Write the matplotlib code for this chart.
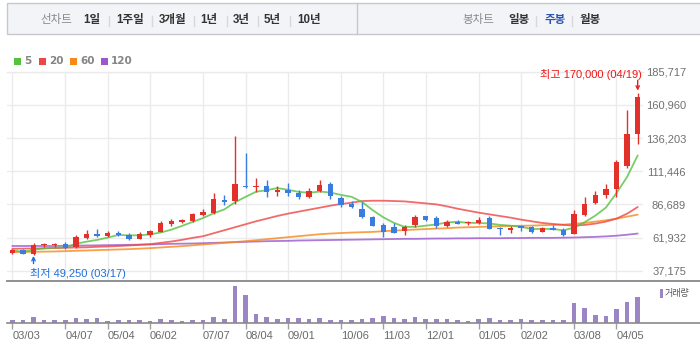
import matplotlib
matplotlib.use("Agg")
import matplotlib.pyplot as plt
from matplotlib.patches import Rectangle
from matplotlib.lines import Line2D
import numpy as np
import pandas as pd

plt.rcParams['font.family'] = ['Liberation Sans', 'Noto Sans CJK KR', 'DejaVu Sans']

# ---------------- data (weekly candles, 03/03 .. 04/19) ----------------
opens = [50300, 52500, 49550, 55990, 55990, 57000, 55000, 61440, 64650, 62920,
         64900, 63660, 60940, 63660, 66390, 71840, 73320, 74310, 79010, 80250,
         89910, 89160, 100550, 99320, 100060, 96100, 97580, 94860, 91890, 96340,
         101540, 91640, 86690, 83470, 77030, 71090, 69610, 66880, 71340, 77780,
         76290, 70350, 73820, 72580, 72580, 76290, 69110, 67630, 70100, 69610,
         66140, 69110, 67380, 64650, 78520, 87680, 93620, 98080, 115160, 138930]
closes = [52500, 49800, 56240, 56730, 56730, 54010, 62430, 64410, 63170, 65400,
          63910, 60940, 64410, 66640, 72580, 74310, 75050, 79260, 81240, 90400,
          88670, 101540, 99560, 100550, 95850, 96840, 95110, 91890, 96840, 100800,
          92880, 86440, 84710, 77280, 70600, 66140, 65650, 69850, 77280, 75050,
          70600, 73320, 72080, 73320, 74810, 68620, 68120, 69110, 69110, 66390,
          69110, 67870, 64160, 79260, 86690, 93370, 97830, 118630, 139420, 166900]
highs = [53300, 53300, 57480, 58220, 58220, 58470, 63660, 67380, 68120, 66640,
         66640, 65150, 66390, 67380, 74060, 75800, 76040, 80250, 83220, 94860,
         93370, 137440, 125310, 106740, 105010, 100060, 102290, 97580, 99070, 104510,
         103030, 92630, 88920, 88420, 78270, 72580, 73070, 71090, 78520, 78020,
         77780, 74810, 74810, 74310, 77030, 78270, 69850, 70350, 71590, 70600,
         69850, 71090, 68860, 82230, 91890, 96340, 101540, 119860, 157250, 170000]
lows = [49550, 49600, 49250, 54500, 54750, 53270, 54260, 60940, 62180, 62180,
        62920, 60200, 60690, 62430, 65890, 70600, 72830, 73570, 78270, 79760,
        85950, 86940, 99070, 95850, 92140, 92880, 92630, 90900, 91390, 95600,
        90650, 84710, 83970, 76540, 70350, 62430, 65400, 63910, 69610, 74560,
        69110, 69610, 71840, 71340, 71840, 68370, 63910, 65400, 66880, 65650,
        65890, 67630, 63170, 64410, 77780, 87180, 91390, 92140, 113670, 131500]
# moving averages (need history before the first candle)
ma20 = [53515, 53640, 53760, 53890, 54010, 54260, 54505, 54630, 55000, 55250,
        55620, 55990, 56485, 56980, 57970, 58960, 60200, 61685, 62920, 65150,
        67380, 69605, 71835, 74060, 76045, 78025, 79755, 81240, 82730, 84215,
        85700, 86935, 87930, 89165, 89410, 89410, 89165, 88915, 88175, 87430,
        86690, 85205, 83470, 81985, 80500, 79260, 78025, 76785, 75300, 74060,
        72825, 72080, 71340, 70845, 71340, 72330, 73815, 76045, 79755, 84710]
ma60 = [51040, 51160, 51290, 51410, 51535, 51780, 52030, 52275, 52525, 52770,
        53020, 53265, 53640, 54010, 54505, 55000, 55495, 56115, 56735, 57350,
        57970, 58590, 59210, 59950, 60695, 61435, 62180, 62920, 63665, 64410,
        64900, 65275, 65645, 65895, 66140, 66635, 67130, 67500, 67875, 68245,
        68615, 68865, 69360, 69605, 69855, 70100, 70350, 70595, 70720, 70845,
        71090, 71340, 71585, 72205, 72825, 73815, 74805, 76045, 77530, 79015]
ma120 = [55620, 55620, 55620, 55620, 55620, 55745, 55865, 55990, 56115, 56240,
         56360, 56485, 56610, 56735, 56980, 57230, 57350, 57475, 57725, 57970,
         58220, 58465, 58715, 58960, 59210, 59335, 59455, 59705, 59830, 59950,
         60075, 60200, 60325, 60445, 60570, 60695, 60820, 60940, 60940, 61065,
         61190, 61190, 61315, 61315, 61435, 61435, 61435, 61560, 61560, 61685,
         61685, 61685, 61810, 61930, 62180, 62430, 62800, 63295, 64035, 64900]
# volume (thousand shares)
volumes = [350, 350, 800, 350, 350, 350, 650, 500, 650, 200,
           350, 350, 350, 200, 500, 350, 200, 350, 350, 800,
           500, 5500, 4150, 1300, 800, 500, 650, 650, 500, 650,
           350, 350, 350, 500, 650, 950, 650, 500, 800, 500,
           500, 500, 350, 200, 500, 650, 350, 350, 500, 350,
           350, 350, 350, 2900, 2150, 1100, 950, 2000, 3050, 3800]

tick_idx = [0, 5, 9, 13, 18, 22, 26, 31, 35, 39, 44, 48, 53, 57]
tick_labels = ["03/03", "04/07", "05/04", "06/02", "07/07", "08/04", "09/01",
               "10/06", "11/03", "12/01", "01/05", "02/02", "03/08", "04/05"]
price_ticks = [37175, 61932, 86689, 111446, 136203, 160960, 185717]
max_date, min_date = "04/19", "03/17"

ma_names = ["5", "20", "60", "120"]
ma_colors = ["#55c23f", "#ee4646", "#f7891b", "#9b57cf"]

# ---------------- figure ----------------
W, H = 700, 352
fig = plt.figure(figsize=(7, 3.52), dpi=100)
fig.patch.set_facecolor("white")

def fx(x): return x / W
def fy(y): return 1 - y / H

def prect(x0, y0, x1, y1, **kw):
    fig.add_artist(Rectangle((fx(x0), fy(y1)), (x1 - x0) / W, (y1 - y0) / H,
                             transform=fig.transFigure, **kw))

def pline(x0, y0, x1, y1, **kw):
    fig.add_artist(Line2D([fx(x0), fx(x1)], [fy(y0), fy(y1)],
                          transform=fig.transFigure, **kw))

# header bar
prect(7.3, 3, 702, 34, facecolor="#f3f4f8", edgecolor="#c6c8cd", lw=1)
pline(357, 3, 357, 34, color="#c6c8cd", lw=1)
hy = 20.5
fig.text(fx(55.9), fy(hy), "선차트", ha="center", va="center", fontsize=8.3, color="#8a8a8a")
for lab, cx in zip(["1일", "1주일", "3개월", "1년", "3년", "5년", "10년"],
                   [92, 130.3, 172.8, 208.8, 240.8, 272.5, 309.2]):
    fig.text(fx(cx), fy(hy), lab, ha="center", va="center", fontsize=8.3,
             fontweight="bold", color="#333333")
for sx in [109, 151.7, 194.3, 226.7, 257.7, 290, 535.7, 571.7]:
    pline(sx, 15.5, sx, 25.5, color="#d8d8d8", lw=1)
fig.text(fx(478.3), fy(hy), "봉차트", ha="center", va="center", fontsize=8.3, color="#8a8a8a")
for lab, cx, col in zip(["일봉", "주봉", "월봉"], [519.2, 554.7, 590.3],
                        ["#333333", "#2d54b0", "#333333"]):
    fig.text(fx(cx), fy(hy), lab, ha="center", va="center", fontsize=8.3,
             fontweight="bold", color=col)

# MA legend
for name, col, sx in zip(ma_names, ma_colors, [14, 39.3, 70, 101]):
    prect(sx, 58, sx + 6.7, 64.7, facecolor=col, edgecolor="none")
    fig.text(fx(sx + 10), fy(61.5), name, ha="left", va="center", fontsize=7.5,
             fontweight="bold", color="#858585", family="DejaVu Sans")

# ---------------- price axes ----------------
ax = fig.add_axes([fx(7), fy(280.7), fx(643) - fx(7), fy(71.7) - fy(280.7)])
x = np.arange(len(closes))
ax.set_xlim(-0.5, len(closes) - 0.5)
ax.set_ylim(29711, 185717)
for s in ax.spines.values():
    s.set_visible(False)
ax.set_xticks(tick_idx)
ax.set_yticks(price_ticks)
ax.grid(True, color="#ebebeb", lw=1, zorder=0)
ax.axhline(price_ticks[-1], color="#e6e6e6", lw=1, clip_on=False, zorder=0)
ax.tick_params(axis="x", length=0, labelbottom=False)
ax.yaxis.tick_right()
ax.tick_params(axis="y", length=0, pad=31, labelsize=8, labelcolor="#707070")
ax.set_yticklabels([f"{v:,}" for v in price_ticks])
for lbl in ax.get_yticklabels():
    lbl.set_horizontalalignment("right")

# moving averages
ma5 = pd.Series(closes).rolling(5, min_periods=1).mean().values
for vals, col in zip([ma120, ma60, ma20, ma5], ma_colors[::-1]):
    ax.plot(x, vals, color=col, lw=1.3, alpha=0.8, zorder=2, solid_capstyle="round")

# candles
o = np.array(opens); c = np.array(closes)
colors = np.where(c >= o, "#e2302b", "#3a7ce0")
bottoms = np.minimum(o, c)
heights = np.maximum(np.abs(c - o), 1100)
ax.vlines(x, lows, highs, colors=colors, lw=1, zorder=3)
ax.bar(x, heights, bottom=bottoms, width=0.5, color=colors, lw=0, zorder=4)

# extremes
imax = int(np.argmax(highs)); hmax = highs[imax]
imin = int(np.argmin(lows)); lmin = lows[imin]
ax.annotate("", xy=(imax, hmax), xytext=(0, 9), textcoords="offset points",
            arrowprops=dict(arrowstyle="->", color="#e8201c", lw=1, shrinkA=0, shrinkB=1.5,
                            mutation_scale=6), annotation_clip=False)
ax.annotate(f"최고 {hmax:,} ({max_date})", xy=(imax, hmax), xytext=(2.8, 13.3),
            textcoords="offset points", ha="right", va="center", fontsize=8,
            color="#f01515", annotation_clip=False)
ax.annotate("", xy=(imin, lmin), xytext=(0, -6.5), textcoords="offset points",
            arrowprops=dict(arrowstyle="->", color="#1f6fd8", lw=1, shrinkA=0, shrinkB=1,
                            mutation_scale=6), annotation_clip=False)
ax.annotate(f"최저 {lmin:,} ({min_date})", xy=(imin, lmin), xytext=(-2.2, -13.5),
            textcoords="offset points", ha="left", va="center", fontsize=8,
            color="#1f6fd8", annotation_clip=False)

# ---------------- volume axes ----------------
axv = fig.add_axes([fx(7), fy(322.7), fx(643) - fx(7), fy(280.7) - fy(322.7)])
axv.set_xlim(-0.5, len(closes) - 0.5)
axv.set_ylim(0, 6300)
for s in axv.spines.values():
    s.set_visible(False)
axv.bar(x, volumes, width=0.45, color="#9b85c4", lw=0, zorder=2)
axv.set_yticks([])
axv.set_xticks(tick_idx)
axv.set_xticklabels(tick_labels)
axv.tick_params(axis="x", length=4.5, width=1, color="#a0a0a0", pad=1.5,
                labelsize=8, labelcolor="#6a6a6a")
for lbl in axv.get_xticklabels():
    lbl.set_horizontalalignment("left")

pline(7.3, 280.7, 702, 280.7, color="#85878b", lw=1.3)
pline(7.3, 322.9, 702, 322.9, color="#8a8a8a", lw=1.2)

prect(660, 289.3, 663.3, 297.7, facecolor="#9b85c4", edgecolor="none")
fig.text(fx(665), fy(293.5), "거래량", ha="left", va="center", fontsize=6.5, color="#555555")

fig.savefig("out.png", dpi=100)
